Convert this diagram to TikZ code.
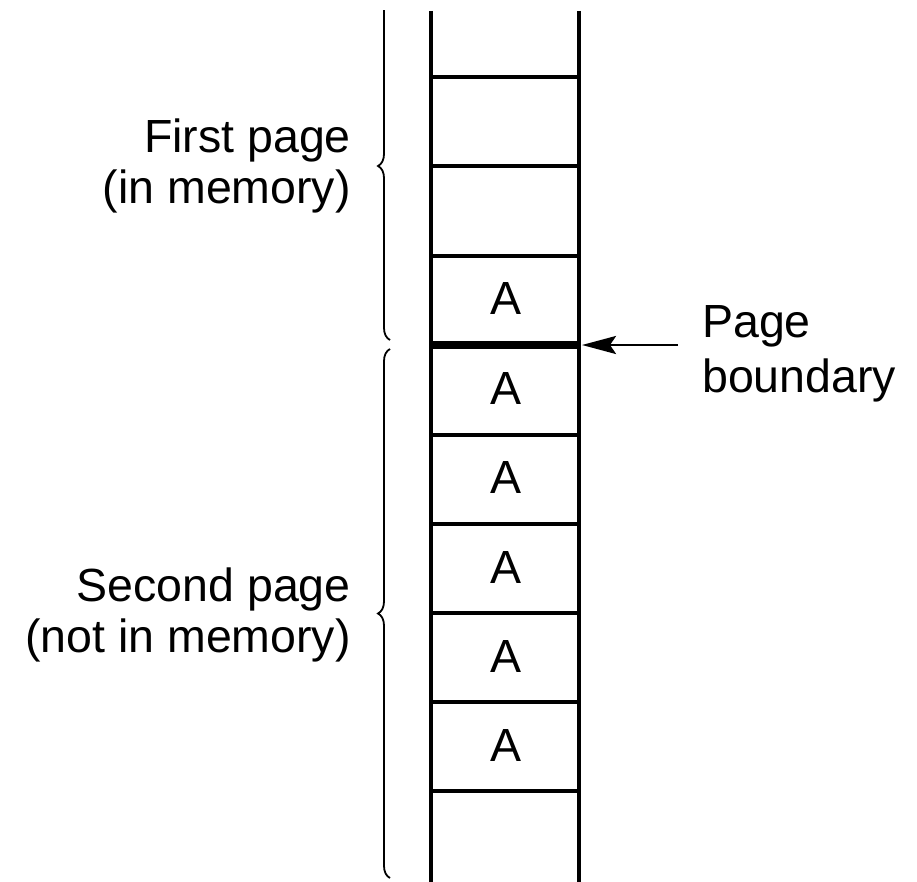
\documentclass[tikz,border=0pt]{standalone}
\usepackage{fontspec}
\setmainfont{Liberation Sans}
\usetikzlibrary{decorations.pathreplacing,arrows.meta}
\begin{document}
\begin{tikzpicture}[x=1pt,y=-1pt,
  rail/.style={line width=4pt},
  rung/.style={line width=4pt},
  boundaryline/.style={line width=7.5pt},
  curly/.style={line width=1.8pt,decorate,decoration={brace,amplitude=12pt}},
  lbl/.style={font=\fontsize{46.5}{51}\selectfont,inner sep=0pt},
  cellA/.style={font=\fontsize{46.5}{51}\selectfont,inner sep=0pt}]
\useasboundingbox (0,0) rectangle (917,882);
% the two side rails of the strip
\draw[rail] (431,11) -- (431,882);
\draw[rail] (579,11) -- (579,882);
% cell separators
\foreach \y in {77,166,256,435,524,613,702,791}
  \draw[rung] (431,\y) -- (579,\y);
% page boundary
\draw[boundaryline] (431,345) -- (579,345);
% cell contents
\foreach \y/\n in {299/a1,389/a2,478/a3,567/a4,656/a5,745/a6}
  \node[cellA] (\n) at (506,\y) {A};
% braces (the upper one runs off the top edge)
\begin{scope}
  \clip (300,11) rectangle (420,882);
  \draw[curly] (390,340) -- (390,-8);
\end{scope}
\draw[curly] (390,878) -- (390,349);
% labels
\node[lbl,align=right,anchor=east] (first) at (351,166) {First page\\(in memory)};
\node[lbl,align=right,anchor=east] (second) at (351,615) {Second page\\(not in memory)};
\node[lbl,align=left,anchor=west,font=\fontsize{46.5}{55}\selectfont] (pbl) at (702,354) {Page\\boundary};
% arrow to the boundary
\coordinate (tail) at (678,345);
\coordinate (head) at (582,345);
\draw[line width=2.6pt,-{Stealth[length=34pt,width=18pt,inset=6pt]}] (tail) -- (head);
\end{tikzpicture}
\end{document}
